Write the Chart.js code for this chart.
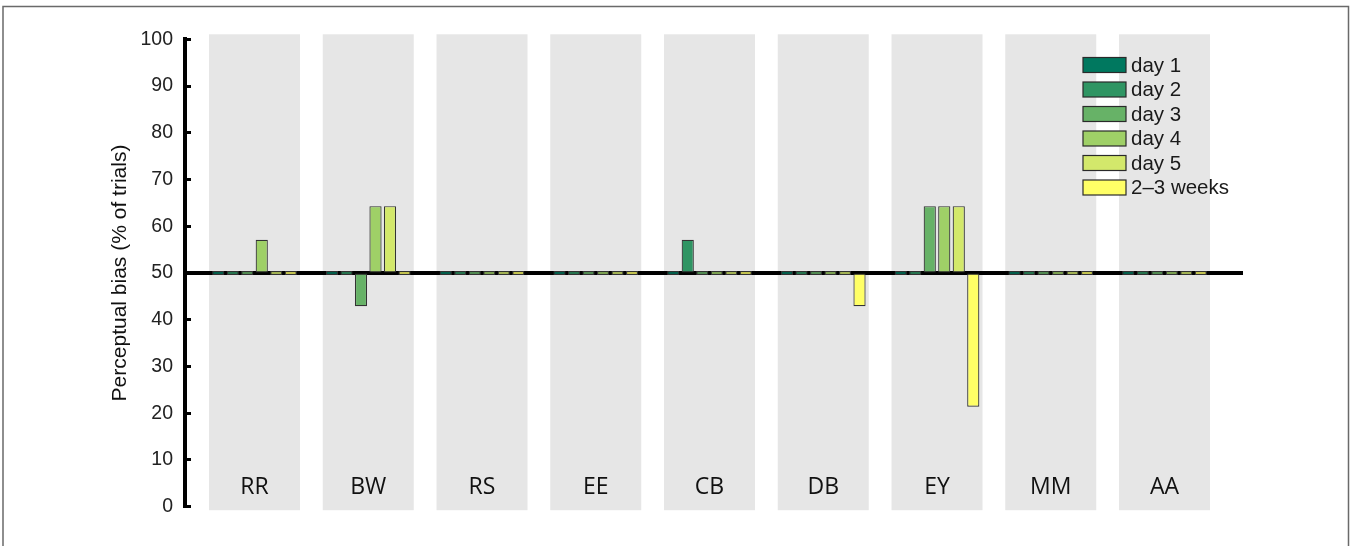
<!DOCTYPE html>
<html>
<head>
<meta charset="utf-8">
<title>Perceptual bias</title>
<script src="https://cdn.jsdelivr.net/npm/chart.js@4"></script>
<style>
  body { margin: 0; background: #fff; }
  canvas { display: block; }
</style>
</head>
<body>
<canvas id="myChart" width="1351" height="546"></canvas>
<script>
// Observers and per-session bias values (% of trials)
const categories = ['RR', 'BW', 'RS', 'EE', 'CB', 'DB', 'EY', 'MM', 'AA'];
const day1  = [50, 50, 50, 50, 50, 50, 50, 50, 50];
const day2  = [50, 50, 50, 50, 57.1, 50, 50, 50, 50];
const day3  = [50, 42.9, 50, 50, 50, 50, 64.3, 50, 50];
const day4  = [57.1, 64.3, 50, 50, 50, 50, 64.3, 50, 50];
const day5  = [50, 64.3, 50, 50, 50, 50, 64.3, 50, 50];
const weeks = [50, 50, 50, 50, 50, 42.9, 21.4, 50, 50];
const yTicks = [0, 10, 20, 30, 40, 50, 60, 70, 80, 90, 100];

const seriesNames = ['day 1', 'day 2', 'day 3', 'day 4', 'day 5', '2\u20133 weeks'];
const seriesValues = [day1, day2, day3, day4, day5, weeks];
const colors = ['#00785f', '#2f9563', '#67b267', '#9fd067', '#d3e86b', '#ffff66'];

const datasets = seriesValues.map((vals, k) => ({
    label: seriesNames[k],
    data: vals.map((v, i) => ({ x: i, y: v })),
    base: 50,
    backgroundColor: colors[k],
    borderColor: '#333',
    borderWidth: 1.2,
    borderSkipped: false,
    minBarLength: 4
}));

// frame, gray band behind each observer, 50% reference line and legend
const backdrop = {
    id: 'backdrop',
    beforeDraw(chart) {
        const ctx = chart.ctx;
        const x = chart.scales.x, y = chart.scales.y;
        ctx.save();
        ctx.lineWidth = 1.5;
        ctx.strokeStyle = '#6a6a6a';
        ctx.beginPath();
        ctx.moveTo(3, 546);
        ctx.lineTo(3, 6.5);
        ctx.lineTo(1348.5, 6.5);
        ctx.lineTo(1348.5, 546);
        ctx.stroke();

        const top = y.getPixelForValue(100) - 5;
        const bottom = y.getPixelForValue(0) + 3.5;
        ctx.fillStyle = '#e6e6e6';
        categories.forEach((c, i) => {
            const l = x.getPixelForValue(i - 0.4);
            const r = x.getPixelForValue(i + 0.4);
            ctx.fillRect(l, top, r - l, bottom - top);
        });
        ctx.restore();
    },
    beforeDatasetsDraw(chart) {
        const ctx = chart.ctx;
        const y50 = chart.scales.y.getPixelForValue(50);
        ctx.save();
        ctx.strokeStyle = '#000';
        ctx.lineWidth = 4;
        ctx.beginPath();
        ctx.moveTo(chart.chartArea.left, y50);
        ctx.lineTo(chart.chartArea.right, y50);
        ctx.stroke();
        ctx.restore();
    },
    afterDraw(chart) {
        const ctx = chart.ctx;
        ctx.save();
        ctx.font = '20.5px "Liberation Sans", Arial, sans-serif';
        ctx.textBaseline = 'middle';
        chart.data.datasets.forEach((ds, k) => {
            const cy = 65 + k * 24.5;
            ctx.fillStyle = ds.backgroundColor;
            ctx.fillRect(1083, cy - 7.5, 43, 15);
            ctx.strokeStyle = '#2a2a2a';
            ctx.lineWidth = 1.2;
            ctx.strokeRect(1083, cy - 7.5, 43, 15);
            ctx.fillStyle = '#1a1a1a';
            ctx.fillText(ds.label, 1131, cy + 1);
        });
        ctx.restore();
    }
};

const ctx = document.getElementById('myChart').getContext('2d');
const myChart = new Chart(ctx, {
    type: 'bar',
    data: { datasets: datasets },
    options: {
        responsive: false,
        animation: false,
        layout: { padding: { left: 0, top: 39.3, right: 108, bottom: 39.3 } },
        datasets: { bar: { categoryPercentage: 0.765, barPercentage: 0.84 } },
        plugins: {
            legend: { display: false },
            tooltip: { enabled: false }
        },
        scales: {
            x: {
                type: 'linear',
                offset: false,
                min: -0.611,
                max: 8.69,
                position: { y: 7.5 },
                border: { display: false },
                grid: { display: false, drawTicks: false },
                afterBuildTicks: scale => {
                    scale.ticks = categories.map((c, i) => ({ value: i }));
                },
                ticks: {
                    autoSkip: false,
                    maxRotation: 0,
                    padding: 2.5,
                    color: '#111',
                    font: { family: '"Open Sans", sans-serif', size: 23 },
                    callback: v => categories[v]
                }
            },
            y: {
                min: 0,
                max: 100,
                afterFit: scale => { scale.width = 185; },
                afterBuildTicks: scale => {
                    scale.ticks = yTicks.map(v => ({ value: v }));
                },
                border: { display: true, color: '#000', width: 4 },
                grid: {
                    drawOnChartArea: false,
                    drawTicks: true,
                    tickLength: -6,
                    tickWidth: 3,
                    tickColor: '#000'
                },
                ticks: {
                    padding: 18,
                    color: '#222',
                    font: { family: '"Liberation Sans", Arial, sans-serif', size: 19.5 }
                },
                title: {
                    display: true,
                    text: 'Perceptual bias (% of trials)',
                    color: '#111',
                    padding: { top: 108, bottom: 0 },
                    font: { family: '"Liberation Sans", Arial, sans-serif', size: 21 }
                }
            }
        }
    },
    plugins: [backdrop]
});
</script>
</body>
</html>
